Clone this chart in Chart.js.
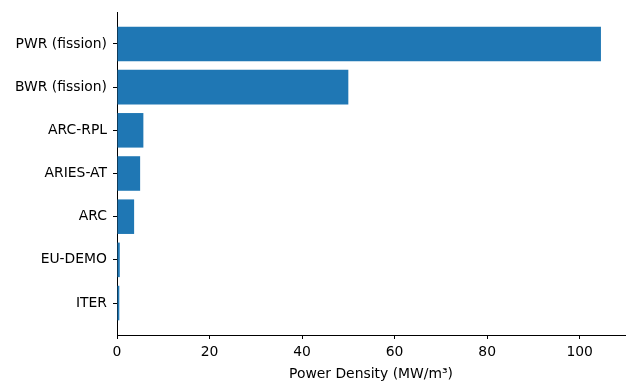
<!DOCTYPE html>
<html>
<head>
<meta charset="utf-8">
<script src="https://cdn.jsdelivr.net/npm/chart.js@4/dist/chart.umd.min.js"></script>
<style>
  body { margin: 0; background: #fff; }
  #wrap { width: 640px; height: 385px; }
</style>
</head>
<body>
<div id="wrap"><canvas id="myChart"></canvas></div>
<script>
// data, bottom to top like the original barh
const reactors = ['ITER', 'EU-DEMO', 'ARC', 'ARIES-AT', 'ARC-RPL', 'BWR (fission)', 'PWR (fission)'];
const powerDensity = [0.5, 0.6, 3.7, 5.0, 5.7, 50, 104.6];
const xTicks = [0, 20, 40, 60, 80, 100];

const font = { family: 'DejaVu Sans', size: 13.9 };

var points = reactors.map((name, i) => ({ x: powerDensity[i], y: i }));

var ctx = document.getElementById('myChart');
var barChart = new Chart(ctx, {
    type: 'bar',
    data: {
        datasets: [{
            data: points,
            backgroundColor: '#1f77b4',
            borderWidth: 0,
            barPercentage: 1,
            categoryPercentage: 0.8,
        }]
    },
    options: {
        indexAxis: 'y',
        responsive: true,
        maintainAspectRatio: false,
        animation: false,
        layout: { padding: { top: 12, right: 15, left: 0, bottom: 0 } },
        plugins: { legend: { display: false }, tooltip: { enabled: false } },
        scales: {
            x: {
                type: 'linear',
                min: 0,
                max: 109.8,
                afterBuildTicks: axis => { axis.ticks = xTicks.map(v => ({ value: v })); },
                afterFit: axis => { axis.height = 50; axis.paddingLeft = 0; axis.paddingRight = 0; },
                grid: { drawOnChartArea: false, drawTicks: true, tickLength: 4, tickColor: '#000' },
                border: { display: true, color: '#000', width: 1 },
                ticks: { color: '#000', font: font, padding: 5, maxRotation: 0 },
                title: { display: true, text: 'Power Density (MW/m³)', color: '#000', font: font, padding: { top: 0, bottom: 2 } }
            },
            y: {
                type: 'linear',
                min: -0.74,
                max: 6.74,
                offset: false,
                afterBuildTicks: axis => { axis.ticks = reactors.map((r, i) => ({ value: i })); },
                afterFit: axis => { axis.width = 117; axis.paddingTop = 0; axis.paddingBottom = 0; },
                grid: { offset: false, drawOnChartArea: false, drawTicks: true, tickLength: 4, tickColor: '#000' },
                border: { display: true, color: '#000', width: 1 },
                ticks: {
                    color: '#000',
                    font: font,
                    padding: 6,
                    callback: v => reactors[v]
                }
            }
        }
    }
})
</script>
</body>
</html>
